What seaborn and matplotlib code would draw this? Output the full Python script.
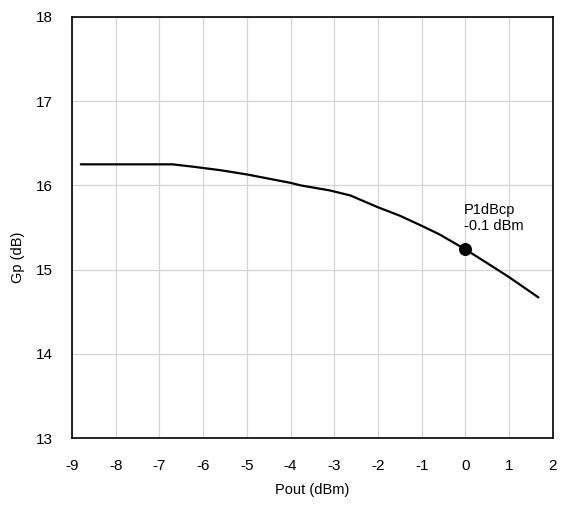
import numpy as np
import pandas as pd
import matplotlib
matplotlib.use("Agg")
import matplotlib.pyplot as plt
import seaborn as sns

# Gp vs Pout curve
pout = [-8.8, -6.7, -6.2, -5.6, -5.0, -4.0, -3.77, -3.1, -2.63, -2.0, -1.5, -1.0, -0.6, 0.0, 0.52, 1.0, 1.67]
gp = [16.25, 16.25, 16.22, 16.18, 16.13, 16.03, 16.0, 15.94, 15.88, 15.74, 15.64, 15.52, 15.42, 15.24, 15.07, 14.91, 14.67]

# P1dB compression point
p1db_x = [0.0]
p1db_y = [15.24]
p1db_label = "P1dBcp\n-0.1 dBm"

x_ticks = list(range(-9, 3))
y_ticks = list(range(13, 19))

sns.set_style("white")
plt.rcParams["font.family"] = ["Liberation Sans", "DejaVu Sans"]
plt.rcParams["axes.unicode_minus"] = False
plt.rcParams["text.color"] = "black"
plt.rcParams["axes.labelcolor"] = "black"
plt.rcParams["xtick.color"] = "black"
plt.rcParams["ytick.color"] = "black"

df = pd.DataFrame({"Pout": pout, "Gp": gp})

fig = plt.figure(figsize=(5.63, 5.13), dpi=100)
ax = fig.add_axes([0.128, 0.146, 0.854, 0.821])

sns.lineplot(data=df, x="Pout", y="Gp", color="black", linewidth=1.6, ax=ax, sort=False)
ax.scatter(p1db_x, p1db_y, s=70, color="black", zorder=5)

ax.text(p1db_x[0] - 0.03, p1db_y[0] + 0.19, p1db_label, fontsize=10.5,
        ha="left", va="bottom", linespacing=1.25)

ax.set_xlim(-9, 2)
ax.set_ylim(13, 18)
ax.set_xticks(x_ticks)
ax.set_yticks(y_ticks)
ax.grid(True, color="#d4d4d4", linewidth=0.9)
ax.set_axisbelow(True)
ax.tick_params(axis="both", length=0, labelsize=11)
ax.tick_params(axis="x", pad=15)
ax.tick_params(axis="y", pad=14)

for s in ax.spines.values():
    s.set_color("black")
    s.set_linewidth(1.2)

ax.set_xlabel("Pout (dBm)", fontsize=10.5)
ax.set_ylabel("Gp (dB)", fontsize=10.5)
ax.xaxis.set_label_coords(0.5, -0.107)
ax.yaxis.set_label_coords(-0.097, 0.43)

fig.savefig("out.png", dpi=100)
plt.close(fig)
